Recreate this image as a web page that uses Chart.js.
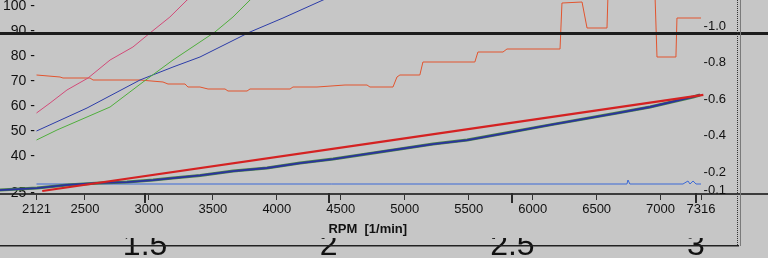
<!DOCTYPE html>
<html>
<head>
<meta charset="utf-8">
<script src="https://cdn.jsdelivr.net/npm/chart.js@4.4.1/dist/chart.umd.min.js"></script>
<style>
  html, body { margin: 0; padding: 0; background: #c6c6c6; }
  #wrap { width: 768px; height: 258px; }
</style>
</head>
<body>
<div id="wrap"><canvas id="dyno" width="768" height="258"></canvas></div>
<script>
// axis ticks
const rpmTicks = [2121, 2500, 3000, 3500, 4000, 4500, 5000, 5500, 6000, 6500, 7000, 7316];
const leftTicks = [25, 40, 50, 60, 70, 80, 90, 100];
const rightTicks = [0.1, 0.2, 0.4, 0.6, 0.8, 1.0];
const ratioTicks = [1.5, 2, 2.5, 3];

// thin curves, rpm vs left axis
const pinkRpm = [2121, 2227, 2359, 2524, 2696, 2875, 3008, 3164, 3298, 3400];
const pinkVal = [57.2, 61.2, 66.4, 71.2, 78.4, 83.6, 89.2, 95.6, 102.4, 106];
const greenRpm = [2121, 2281, 2696, 2954, 3188, 3399, 3516, 3657, 3790, 3900];
const greenVal = [46.4, 50.4, 59.6, 69.6, 78.4, 85.6, 89.6, 95.6, 102.4, 107];
const blueRpm = [2121, 2516, 2930, 3188, 3399, 3790, 4048, 4361, 4500];
const blueVal = [50.0, 59.2, 70.4, 75.6, 79.6, 89.6, 95.2, 102.4, 105.5];
const orangeRpm = [2121, 2305, 2328, 2539, 2563, 2930, 3110, 3149, 3282, 3305, 3399, 3462, 3595, 3618, 3767, 3790,
  4103, 4126, 4314, 4533, 4705, 4728, 4908, 4939, 4962, 5118, 5142, 5548, 5572, 5768, 5799, 6214, 6229, 6386,
  6425, 6581, 6589, 6956, 6972, 7120, 7128, 7316];
const orangeVal = [72.4, 71.6, 71.2, 71.2, 70.4, 70.4, 69.6, 68.8, 68.8, 67.6, 67.6, 66.8, 66.8, 66.0, 66.0, 66.8,
  66.8, 67.6, 67.6, 68.4, 68.4, 67.6, 67.6, 71.6, 72.4, 72.4, 77.6, 77.6, 81.6, 81.6, 82.8, 82.8, 101.2, 101.6,
  91.2, 91.2, 105, 105, 79.6, 79.6, 95.2, 95.2];
const baseRpm = [2121, 6737, 6745, 6760, 7175, 7214, 7230, 7254, 7277, 7316];
const baseVal = [28.8, 28.8, 30.4, 28.8, 28.8, 30.0, 28.8, 30.0, 28.8, 28.8];

// thick curves, ratio axis vs right axis
const redRatio = [1.22, 2.118, 3.02];
const redFrac = [0.096, 0.358, 0.622];
const stepRatio = [1.078, 1.105, 1.206, 1.288, 1.377, 1.451, 1.522, 1.576, 1.650, 1.740, 1.832, 1.922, 2.012,
  2.104, 2.194, 2.284, 2.377, 2.467, 2.603, 2.785, 2.875, 2.992, 3.011];
const stepFrac = [0.096, 0.101, 0.112, 0.129, 0.140, 0.145, 0.156, 0.167, 0.181, 0.205, 0.222, 0.249, 0.271,
  0.299, 0.326, 0.353, 0.375, 0.408, 0.458, 0.523, 0.556, 0.611, 0.622];

const FONT = '"Liberation Sans", Arial, sans-serif';
const pts = (xs, ys) => xs.map((x, i) => ({ x: x, y: ys[i] }));

function thin(data, color) {
  return { data: data, borderColor: color, borderWidth: 1, pointRadius: 0, tension: 0, xAxisID: 'x', yAxisID: 'y' };
}

function noPad(s) {
  s.paddingLeft = 0; s.paddingRight = 0; s.paddingTop = 0; s.paddingBottom = 0;
}

// frame lines and the ratio-axis ticks sitting on the rpm axis line
const frame = {
  id: 'frame',
  afterDatasetsDraw(chart) {
    const ctx = chart.ctx;
    const r = chart.scales.x2;
    const bottom = chart.chartArea.bottom;
    ctx.save();
    ctx.fillStyle = '#2a2a2a';
    ratioTicks.forEach(v => {
      const px = Math.round(r.getPixelForValue(v));
      ctx.fillRect(px - 1, bottom - 1, 2, 10);
    });
    ctx.fillStyle = '#1c1c1c';
    ctx.fillRect(0, 32, 768, 3);
    ctx.fillStyle = '#222';
    ctx.fillRect(0, 245, 739, 1.5);
    ctx.fillStyle = '#333';
    for (let y = 0; y < 246; y += 2) ctx.fillRect(737, y, 1, 1);
    ctx.fillStyle = '#7a7a7a';
    ctx.fillRect(740, 0, 1, 246);
    ctx.restore();
  }
};

new Chart(document.getElementById('dyno'), {
  type: 'line',
  data: {
    datasets: [
      { data: pts(redRatio, redFrac), borderColor: '#d42222', borderWidth: 2.2, pointRadius: 0, tension: 0,
        xAxisID: 'x2', yAxisID: 'y2' },
      { data: pts(stepRatio, stepFrac), borderColor: '#2a329e', borderWidth: 1.8, pointRadius: 0, tension: 0,
        xAxisID: 'x2', yAxisID: 'y2' },
      { data: pts(stepRatio, stepFrac), borderColor: '#4a804a', borderWidth: 3, pointRadius: 0, tension: 0,
        xAxisID: 'x2', yAxisID: 'y2' },
      thin(pts(pinkRpm, pinkVal), '#d24a78'),
      thin(pts(greenRpm, greenVal), '#4fae3c'),
      thin(pts(blueRpm, blueVal), '#2c3ca8'),
      thin(pts(orangeRpm, orangeVal), '#e2542e'),
      thin(pts(baseRpm, baseVal), '#3a68d6')
    ]
  },
  options: {
    responsive: false,
    animation: false,
    devicePixelRatio: 1,
    layout: { padding: 0 },
    plugins: { legend: { display: false }, tooltip: { enabled: false } },
    scales: {
      x: {
        type: 'linear', position: 'bottom', min: 1835.6, max: 7839.8,
        afterBuildTicks: s => { s.ticks = rpmTicks.map(v => ({ value: v })); },
        afterFit: s => { s.height = 44; noPad(s); },
        ticks: { autoSkip: false, maxRotation: 0, padding: 2, color: '#111',
          font: { family: FONT, size: 13 }, callback: v => String(v) },
        grid: { drawOnChartArea: false, tickLength: 6, color: '#333' },
        border: { color: '#3c3c3c', width: 2 },
        title: { display: true, text: 'RPM  [1/min]\u00a0\u00a0\u00a0\u00a0\u00a0\u00a0\u00a0\u00a0\u00a0',
          color: '#111', font: { family: FONT, size: 13, weight: 'bold' }, padding: { top: 0, bottom: 1 } }
      },
      x2: {
        type: 'linear', position: 'bottom', min: 1.105, max: 3.196,
        afterBuildTicks: s => { s.ticks = ratioTicks.map(v => ({ value: v })); },
        afterFit: s => { s.height = 20; noPad(s); },
        ticks: { autoSkip: false, maxRotation: 0, padding: -11, color: '#111',
          font: { family: FONT, size: 32 }, callback: v => String(v) },
        grid: { display: false, drawTicks: false },
        border: { display: false }
      },
      y: {
        type: 'linear', position: 'left', min: 24.8, max: 102.4,
        afterBuildTicks: s => { s.ticks = leftTicks.map(v => ({ value: v })); },
        afterFit: s => { s.width = 0; noPad(s); },
        ticks: { mirror: true, crossAlign: 'far', padding: 3, color: '#111',
          font: { family: FONT, size: 14 }, callback: v => v + ' -' },
        grid: { display: false, drawTicks: false },
        border: { display: false }
      },
      y2: {
        type: 'linear', position: 'right', min: 0.0795, max: 1.142,
        afterBuildTicks: s => { s.ticks = rightTicks.map(v => ({ value: v })); },
        afterFit: s => { s.width = 0; noPad(s); },
        ticks: { mirror: true, crossAlign: 'near', padding: -42, color: '#111',
          font: { family: FONT, size: 13 }, callback: v => '-' + v.toFixed(1) },
        grid: { display: false, drawTicks: false },
        border: { display: false }
      }
    }
  },
  plugins: [frame]
});
</script>
</body>
</html>
